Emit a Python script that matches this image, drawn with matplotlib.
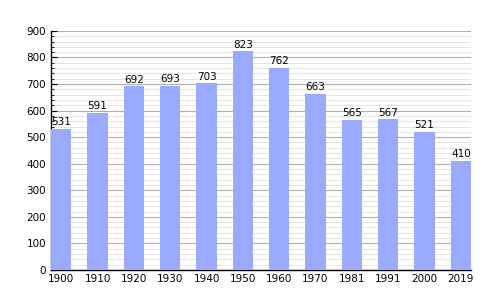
import numpy as np
import matplotlib.pyplot as plt
from matplotlib.ticker import MultipleLocator

years = ['1900', '1910', '1920', '1930', '1940', '1950', '1960', '1970', '1981', '1991', '2000', '2019']
population = [531, 591, 692, 693, 703, 823, 762, 663, 565, 567, 521, 410]

fig = plt.figure(figsize=(5, 3), dpi=100)
ax = fig.add_axes([0.102, 0.1, 0.84, 0.797])

x = np.arange(len(years))
ax.bar(x, population, width=0.56, color='#9aabff', zorder=3)
for xi, v in zip(x, population):
    ax.text(xi, v + 6, str(v), ha='center', va='bottom', fontsize=7.5, zorder=4)

ax.set_xlim(-0.28, len(years) - 1 + 0.28)
ax.set_ylim(0, 900)
ax.set_xticks(x)
ax.set_xticklabels(years, fontsize=7.5)
ax.yaxis.set_major_locator(MultipleLocator(100))
ax.yaxis.set_minor_locator(MultipleLocator(20))
ax.tick_params(axis='y', labelsize=7.5, length=4, direction='in', which='major')
ax.tick_params(axis='y', which='minor', length=2, direction='in')
ax.tick_params(axis='x', length=0, pad=3)
ax.grid(axis='y', which='major', color='#b0b0b0', lw=0.8, zorder=0)
ax.grid(axis='y', which='minor', color='#e0e0e0', lw=0.6, zorder=0)
for s in ['top', 'right']:
    ax.spines[s].set_visible(False)
ax.spines['left'].set_linewidth(1)
ax.spines['bottom'].set_linewidth(1)

fig.savefig('out.png')
